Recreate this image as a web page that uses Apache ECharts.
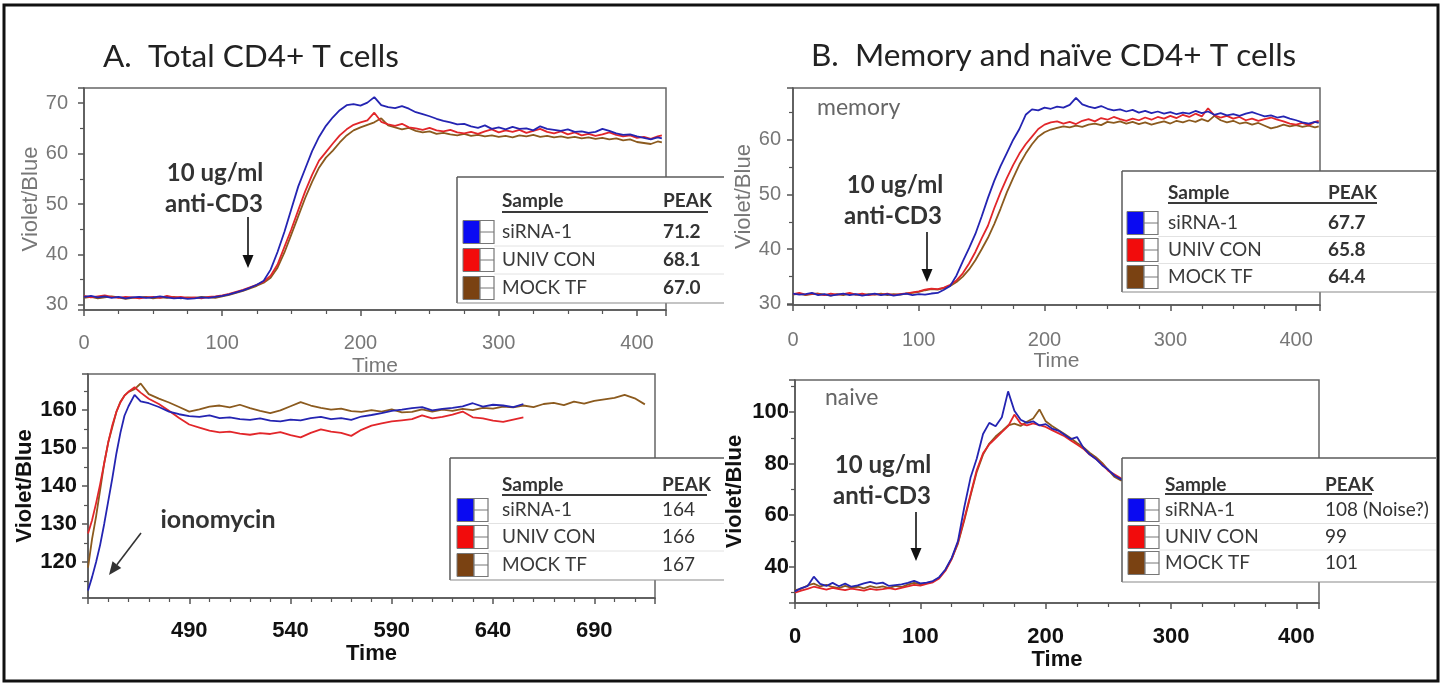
<!DOCTYPE html>
<html>
<head>
<meta charset="utf-8">
<title>CD4+ T cell calcium flux</title>
<script src="https://cdn.jsdelivr.net/npm/echarts@6/dist/echarts.min.js"></script>
<style>
  html, body { margin: 0; padding: 0; background: #fff; }
  #chart { width: 1451px; height: 685px; }
</style>
</head>
<body>
<div id="chart"></div>
<script>
// ---------- data ----------
const sampleNames = ['siRNA-1', 'UNIV CON', 'MOCK TF'];

// sample times (s) for the anti-CD3 runs
const timeCD3 = [0,5,10,15,20,25,30,35,40,45,
  50,55,60,65,70,75,80,85,90,95,
  100,105,110,115,120,125,130,135,140,145,
  150,155,160,165,170,175,180,185,190,195,
  200,205,210,215,220,225,230,235,240,245,
  250,255,260,265,270,275,280,285,290,295,
  300,305,310,315,320,325,330,335,340,345,
  350,355,360,365,370,375,380,385,390,395,
  400,405,410,415,418];

// A. total CD4+ T cells, anti-CD3
const totalSiRNA = [31.6,31.8,31.5,31.7,31.4,31.6,31.3,31.5,31.6,31.4,
  31.5,31.7,31.5,31.3,31.4,31.2,31.3,31.5,31.4,31.6,
  31.8,32.1,32.5,32.9,33.4,34.0,34.8,37.0,40.5,44.5,
  49.0,53.5,57.0,60.5,63.3,65.5,67.2,68.6,69.6,69.8,
  69.5,70.1,71.2,69.6,69.2,69.0,69.4,68.9,68.2,67.8,
  67.4,66.9,66.5,66.2,65.8,65.9,65.4,65.1,65.6,64.9,
  65.2,64.8,65.3,64.9,65.0,64.6,65.4,64.9,64.7,64.5,
  64.8,64.3,64.4,64.1,64.3,64.9,64.5,64.0,63.7,63.8,
  63.4,63.1,62.8,63.2,63.0];
const totalUniv = [31.8,31.5,31.7,31.9,31.6,31.4,31.6,31.5,31.3,31.5,
  31.6,31.4,31.8,31.5,31.6,31.4,31.5,31.3,31.6,31.7,
  31.9,32.2,32.6,33.0,33.5,34.0,34.6,35.8,38.0,41.5,
  45.0,48.8,52.5,55.8,58.6,60.3,62.0,63.6,64.8,65.7,
  66.2,66.6,68.1,66.3,65.8,65.5,65.9,65.2,65.0,64.7,
  65.1,64.6,64.4,64.7,64.2,64.0,64.3,63.9,64.4,64.8,
  64.2,64.6,64.3,64.7,64.1,64.5,64.9,64.3,64.0,64.4,
  63.8,64.2,63.6,63.9,63.5,63.8,64.2,63.7,63.4,63.6,
  63.1,63.3,62.9,63.4,63.6];
const totalMock = [31.4,31.6,31.3,31.5,31.7,31.5,31.2,31.4,31.5,31.6,
  31.3,31.5,31.4,31.6,31.3,31.5,31.4,31.6,31.5,31.4,
  31.7,32.0,32.4,32.8,33.3,33.8,34.4,35.4,37.4,40.4,
  44.0,47.6,51.2,54.4,57.2,59.2,60.6,62.2,63.6,64.6,
  65.2,65.7,66.2,67.0,65.6,65.2,64.8,65.1,64.5,64.2,
  64.4,63.9,64.1,63.8,63.6,63.9,63.5,63.7,63.4,63.6,
  63.3,63.5,63.2,63.6,63.4,63.7,63.3,63.5,63.2,63.4,
  63.1,63.3,63.0,63.2,62.9,63.1,62.8,63.0,62.6,62.8,
  62.3,62.1,61.9,62.4,62.2];

// A. total CD4+ T cells, ionomycin
const timeIono = [440,442,444,446,448,450,452,454,456,458,
  460,463,466,470,475,480,485,490,495,500,
  505,510,515,520,525,530,535,540,545,550,
  555,560,565,570,575,580,585,590,595,600,
  605,610,615,620,625,630,635,640,645,650,
  655,660,665,670,675,680,685,690,695,700,
  705,710,715];
const ionoSiRNA = [112.5,116.0,120.0,124.5,130.0,136.0,142.0,148.5,154.0,158.5,
  161.0,164.0,162.3,161.8,160.8,159.6,158.9,158.4,158.2,158.6,
  157.9,158.1,157.6,157.4,157.8,157.2,157.0,157.5,157.3,157.9,
  158.2,157.6,157.9,157.4,158.3,158.7,159.2,159.8,160.1,160.5,
  160.8,159.9,160.3,160.6,161.0,161.8,160.9,161.4,161.2,160.8,
  161.6];
const ionoUniv = [127.5,131.0,135.5,140.5,146.0,151.5,156.0,159.5,162.0,163.8,
  164.8,166.0,164.6,163.0,161.6,159.8,157.9,156.2,155.4,154.6,
  154.1,154.3,153.8,153.5,153.9,153.7,154.2,153.4,152.8,154.0,
  154.9,154.3,154.0,153.2,154.8,155.9,156.5,157.0,157.3,157.6,
  158.6,157.8,158.2,158.8,159.6,158.1,157.8,157.2,156.9,157.5,
  158.1];
const ionoMock = [118.5,126.0,132.0,139.0,146.0,151.5,155.5,159.5,162.2,163.8,
  164.8,165.5,167.0,164.2,163.0,162.0,160.8,159.6,160.2,160.9,
  161.2,160.7,161.4,160.5,159.8,159.2,159.9,161.0,162.1,161.2,
  160.6,160.1,160.4,159.7,159.5,160.0,159.6,160.2,159.4,159.5,
  160.2,159.6,160.1,159.8,160.3,160.0,160.6,160.4,160.9,160.7,
  161.2,160.8,161.6,161.9,161.3,162.2,161.7,162.4,162.8,163.2,
  164.0,163.1,161.5];

// B. memory CD4+ T cells, anti-CD3
const memorySiRNA = [31.9,31.7,31.8,32.0,31.6,31.8,31.5,31.7,31.9,31.6,
  31.8,31.5,31.7,31.9,31.6,31.8,31.5,31.7,31.9,31.6,
  31.8,31.7,31.9,32.0,32.6,33.3,35.2,37.8,40.2,42.8,
  46.0,49.4,52.5,55.2,57.6,60.0,62.0,64.6,65.6,65.4,
  65.9,65.7,66.1,65.9,66.4,67.7,66.5,66.1,65.8,66.2,
  65.7,65.4,65.6,65.2,65.5,65.0,65.3,64.9,65.2,64.8,
  65.1,64.7,65.0,64.8,65.3,64.9,65.2,64.6,64.9,64.5,
  64.7,64.4,64.8,65.1,64.7,64.3,64.5,64.1,64.3,63.9,
  63.6,63.2,63.0,63.3,63.1];
const memoryUniv = [31.8,32.0,31.7,31.9,31.8,31.6,31.9,31.7,31.8,32.0,
  31.7,31.9,31.6,31.8,31.7,31.9,31.6,31.8,31.9,32.1,
  32.3,32.6,32.8,32.7,33.0,33.5,34.3,35.6,37.4,39.5,
  42.0,44.3,47.5,50.4,53.0,55.4,57.5,59.2,60.6,62.0,
  62.8,63.2,63.4,63.0,63.3,62.9,63.5,63.8,63.4,64.0,
  63.7,64.2,63.8,63.5,63.9,63.6,64.1,63.7,64.2,63.9,
  64.4,64.0,64.6,64.2,64.8,64.3,65.8,64.5,64.1,64.4,
  63.9,64.2,63.6,63.9,63.5,63.8,64.1,63.7,63.4,63.0,
  62.8,63.1,62.7,63.3,63.5];
const memoryMock = [31.7,31.9,31.6,31.8,31.9,31.7,31.5,31.8,31.6,31.9,
  31.7,31.6,31.8,31.7,31.9,31.6,31.8,31.7,31.9,32.0,
  32.2,32.5,32.7,32.6,32.9,33.3,34.0,35.0,36.3,38.0,
  40.0,42.1,44.6,47.4,50.4,53.0,55.5,57.5,59.2,60.6,
  61.4,61.9,62.2,62.5,62.3,62.6,62.4,62.8,63.0,62.7,
  63.3,63.1,63.4,63.0,63.3,62.9,63.2,62.8,63.1,63.4,
  63.0,63.5,63.2,63.6,63.3,63.8,63.4,64.4,63.6,63.2,
  63.5,63.0,63.2,62.8,63.1,62.6,62.1,62.4,62.8,62.5,
  62.7,62.4,62.6,62.3,62.5];

// B. naive CD4+ T cells, anti-CD3 (0-270 s)
const naiveSiRNA = [30.5,31.8,32.5,36.2,33.4,32.6,33.8,32.5,33.5,32.3,
  32.8,33.6,34.2,33.5,33.9,32.6,32.9,33.2,33.8,34.6,
  33.6,33.9,34.5,36.0,39.0,43.5,50.0,63.0,74.5,82.0,
  91.5,95.8,94.5,98.0,108.0,100.5,97.0,95.8,96.4,94.8,
  95.3,93.6,92.8,91.2,89.5,90.3,86.2,83.6,81.8,79.4,
  77.6,75.3,74.0,72.5,71.0];
const naiveUniv = [30.0,30.8,31.5,32.3,31.8,31.2,31.9,31.4,31.0,31.6,
  31.2,30.8,31.5,31.1,31.4,31.8,31.3,31.9,32.4,33.0,
  32.7,33.4,34.0,35.5,38.5,43.0,49.5,58.5,68.0,77.5,
  84.0,87.5,89.8,92.2,94.5,99.0,95.5,94.8,95.6,94.9,
  94.2,93.0,91.8,90.6,89.0,87.4,85.8,83.5,81.9,79.7,
  77.2,75.8,74.3,73.1,72.0];
const naiveMock = [31.0,31.5,32.8,33.5,32.4,33.0,32.2,31.8,32.6,31.9,
  32.3,31.7,32.5,32.0,32.4,31.8,32.6,32.2,33.1,33.8,
  33.2,33.7,34.3,35.8,38.8,43.2,49.0,58.0,67.5,76.8,
  83.5,87.8,90.5,92.6,94.8,95.5,94.6,96.2,97.5,101.0,
  96.4,94.6,93.0,91.5,89.8,88.0,86.4,84.2,82.5,80.3,
  77.5,74.8,73.5,74.2,72.8];

// ---------- styling ----------
const LINE_COLORS = ['#2424b2', '#e2262a', '#8b5a1e'];
const SWATCH_COLORS = ['#0a0af2', '#f20c0c', '#7a4212'];
const SANS = "'Liberation Sans', Arial, sans-serif";
const LATO = "Lato, 'Open Sans', sans-serif";
const AXIS_DARK = '#555';

const panels = [
  { times: timeCD3, sets: [totalSiRNA, totalUniv, totalMock], digits: 1 },
  { times: timeIono, sets: [ionoSiRNA, ionoUniv, ionoMock], digits: 0 },
  { times: timeCD3, sets: [memorySiRNA, memoryUniv, memoryMock], digits: 1 },
  { times: timeCD3, sets: [naiveSiRNA, naiveUniv, naiveMock], digits: 0 }
];

function tickStyle(bold) {
  return bold
    ? { color: '#111', fontSize: 22, fontWeight: 'bold', fontFamily: SANS }
    : { color: '#777', fontSize: 20, fontFamily: SANS };
}

function xAxis(gi, min, max, interval, minorSplit, margin, nameGap, bold) {
  const t = tickStyle(bold);
  return {
    gridIndex: gi, type: 'value', min, max, interval,
    axisLine: { show: true, lineStyle: { color: AXIS_DARK, width: 1.5 } },
    axisTick: { show: true, length: 6, lineStyle: { color: AXIS_DARK, width: 1.5 } },
    minorTick: { show: true, splitNumber: minorSplit, length: 4, lineStyle: { color: AXIS_DARK, width: 1.2 } },
    splitLine: { show: false },
    axisLabel: Object.assign({ margin, showMinLabel: min === 0, showMaxLabel: false }, t),
    name: 'Time', nameLocation: 'middle', nameGap,
    nameTextStyle: bold
      ? { color: '#111', fontSize: 22, fontWeight: 'bold', fontFamily: SANS }
      : { color: '#777', fontSize: 21, fontFamily: SANS }
  };
}

function yAxis(gi, min, max, splitNumber, margin, nameGap, bold) {
  const t = tickStyle(bold);
  return {
    gridIndex: gi, type: 'value', min, max, splitNumber,
    axisLine: { show: true, lineStyle: { color: AXIS_DARK, width: 1.5 } },
    axisTick: { show: true, length: 6, lineStyle: { color: AXIS_DARK, width: 1.5 } },
    minorTick: { show: true, splitNumber: 2, length: 4, lineStyle: { color: AXIS_DARK, width: 1.2 } },
    splitLine: { show: false },
    axisLabel: Object.assign({ margin, showMinLabel: false, showMaxLabel: false }, t),
    name: 'Violet/Blue', nameLocation: 'middle', nameGap,
    nameTextStyle: bold
      ? { color: '#111', fontSize: 22, fontWeight: 'bold', fontFamily: SANS }
      : { color: '#777', fontSize: 22, fontFamily: SANS }
  };
}

const grids = [
  { left: 84, top: 88, width: 582, height: 222 },
  { left: 88, top: 374, width: 567, height: 224 },
  { left: 793, top: 88, width: 527, height: 217 },
  { left: 795, top: 380, width: 524, height: 223 }
].map(g => Object.assign({ show: true, borderColor: '#666', borderWidth: 1.5, backgroundColor: '#fff' }, g));

const xAxes = [
  xAxis(0, 0, 421, 100, 4, 23, 46, false),
  xAxis(1, 440, 720, 50, 5, 22, 44, true),
  xAxis(2, 0, 419, 100, 4, 25, 46, false),
  xAxis(3, 0, 418, 100, 4, 23, 45, true)
];
const yAxes = [
  yAxis(0, 29, 73, 4, 16, 37, false),
  yAxis(1, 110.5, 169.5, 5, 11, 51, true),
  yAxis(2, 29.8, 69.5, 4, 12, 36, false),
  yAxis(3, 26, 112.4, 4, 6, 49, true)
];

// lines drawn brown first, blue last so blue sits on top
const series = [];
panels.forEach((p, gi) => {
  [2, 1, 0].forEach(k => {
    const vals = p.sets[k];
    series.push({
      type: 'line', name: sampleNames[k], xAxisIndex: gi, yAxisIndex: gi,
      data: vals.map((v, i) => [p.times[i], v]),
      showSymbol: false, symbol: 'none',
      lineStyle: { color: LINE_COLORS[k], width: 1.8 },
      itemStyle: { color: LINE_COLORS[k] },
      emphasis: { disabled: true }
    });
  });
});

// ---------- drawn decorations ----------
function text(str, x, y, style) {
  return {
    type: 'text', z: 60, x, y,
    style: Object.assign({ text: str, fill: '#333', fontFamily: LATO, fontSize: 19,
      align: 'left', verticalAlign: 'middle' }, style)
  };
}

function arrow(x1, y1, x2, y2, color) {
  const dx = x2 - x1, dy = y2 - y1, len = Math.hypot(dx, dy);
  const ux = dx / len, uy = dy / len, hl = 13, hw = 5.5;
  const bx = x2 - ux * hl, by = y2 - uy * hl;
  return [
    { type: 'line', z: 60, shape: { x1, y1, x2: bx, y2: by }, style: { stroke: color, lineWidth: 1.6 } },
    { type: 'polygon', z: 60, shape: { points: [[x2, y2], [bx - uy * hw, by + ux * hw], [bx + uy * hw, by - ux * hw]] },
      style: { fill: color } }
  ];
}

function peakText(vals, digits) {
  const m = Math.max.apply(null, vals);
  return digits ? m.toFixed(digits) : String(Math.round(m));
}

function legendTable(o, panel, valueBold, suffixes) {
  const els = [];
  const h = o.bottom - o.top;
  els.push({ type: 'rect', z: 50, shape: { x: o.left, y: o.top, width: o.right - o.left, height: h }, style: { fill: '#fff' } });
  const edge = { stroke: '#5a5a5a', lineWidth: 1.5 };
  els.push({ type: 'line', z: 51, shape: { x1: o.left, y1: o.top, x2: o.right, y2: o.top }, style: edge });
  els.push({ type: 'line', z: 51, shape: { x1: o.left, y1: o.top, x2: o.left, y2: o.bottom }, style: edge });
  els.push({ type: 'line', z: 51, shape: { x1: o.left, y1: o.bottom, x2: o.right, y2: o.bottom }, style: { stroke: '#8a8a8a', lineWidth: 1.2 } });
  els.push(text('Sample', o.sampleX, o.headerY, { fontWeight: 'bold' }));
  els.push(text('PEAK', o.peakX, o.headerY, { fontWeight: 'bold' }));
  els.push({ type: 'line', z: 52, shape: { x1: o.sampleX, y1: o.ruleY, x2: o.ruleEnd, y2: o.ruleY }, style: { stroke: '#3a3a3a', lineWidth: 2.2 } });
  o.rows.forEach((ry, k) => {
    if (k > 0) {
      const sy = (o.rows[k - 1] + ry) / 2;
      els.push({ type: 'line', z: 51, shape: { x1: o.swX + 31, y1: sy, x2: o.right, y2: sy }, style: { stroke: '#e2e2e2', lineWidth: 1 } });
    }
    els.push({ type: 'rect', z: 52, shape: { x: o.swX, y: ry - 11.5, width: 17, height: 23 }, style: { fill: SWATCH_COLORS[k], stroke: '#777', lineWidth: 1 } });
    els.push({ type: 'rect', z: 52, shape: { x: o.swX + 17, y: ry - 11.5, width: 14, height: 23 }, style: { fill: '#fff', stroke: '#777', lineWidth: 1.2 } });
    els.push({ type: 'line', z: 53, shape: { x1: o.swX + 17, y1: ry, x2: o.swX + 31, y2: ry }, style: { stroke: '#777', lineWidth: 1 } });
    els.push(text(sampleNames[k], o.sampleX, ry, { fill: '#3a3a3a' }));
    els.push(text(peakText(panel.sets[k], panel.digits) + (suffixes[k] || ''), o.peakX, ry,
      { fontWeight: valueBold ? 'bold' : 'normal', fill: '#333' }));
  });
  return els;
}

const graphics = [].concat(
  text('A.  Total CD4+ T cells', 103, 57, { fontSize: 31.5, fill: '#222' }),
  text('B.  Memory and na\u00efve CD4+ T cells', 811, 56, { fontSize: 31.5, fill: '#222' }),
  text('memory', 817, 108, { fontSize: 23, fill: '#666' }),
  text('naive', 825, 398, { fontSize: 23, fill: '#666' }),

  text('10 ug/ml', 215, 173, { fontSize: 24, fontWeight: 'bold', align: 'center' }),
  text('anti-CD3', 214, 204, { fontSize: 24, fontWeight: 'bold', align: 'center' }),
  arrow(248, 217, 248, 268, '#111'),
  text('ionomycin', 218, 520, { fontSize: 25, fontWeight: 'bold', align: 'center' }),
  arrow(141, 533, 109, 575, '#333'),
  text('10 ug/ml', 895, 185, { fontSize: 24, fontWeight: 'bold', align: 'center' }),
  text('anti-CD3', 893, 216, { fontSize: 24, fontWeight: 'bold', align: 'center' }),
  arrow(927, 232, 927, 282, '#111'),
  text('10 ug/ml', 883, 465, { fontSize: 24, fontWeight: 'bold', align: 'center' }),
  text('anti-CD3', 882, 496, { fontSize: 24, fontWeight: 'bold', align: 'center' }),
  arrow(916, 512, 916, 561, '#111'),

  legendTable({ left: 457, top: 177, bottom: 303, right: 724, swX: 463, sampleX: 502, peakX: 663,
    headerY: 201, ruleY: 212, ruleEnd: 708, rows: [232, 260, 288] }, panels[0], true, []),
  legendTable({ left: 450, top: 458, bottom: 580, right: 724, swX: 457, sampleX: 502, peakX: 662,
    headerY: 485, ruleY: 495, ruleEnd: 707, rows: [510, 537, 565] }, panels[1], false, []),
  legendTable({ left: 1122, top: 171, bottom: 292, right: 1436, swX: 1127, sampleX: 1168, peakX: 1328,
    headerY: 193, ruleY: 203, ruleEnd: 1377, rows: [223, 250, 277] }, panels[2], true, []),
  legendTable({ left: 1122, top: 458, bottom: 582, right: 1436, swX: 1128, sampleX: 1165, peakX: 1325,
    headerY: 485, ruleY: 494, ruleEnd: 1372, rows: [510, 537, 563] }, panels[3], false, [' (Noise?)']),

  [{ type: 'rect', z: 70, shape: { x: 4, y: 5, width: 1434, height: 676 },
     style: { fill: 'transparent', stroke: '#111', lineWidth: 3 } }]
);

const chart = echarts.init(document.getElementById('chart'), null, { renderer: 'canvas' });
chart.setOption({
  animation: false,
  backgroundColor: '#fff',
  grid: grids,
  xAxis: xAxes,
  yAxis: yAxes,
  series,
  graphic: { elements: graphics }
});
</script>
</body>
</html>
